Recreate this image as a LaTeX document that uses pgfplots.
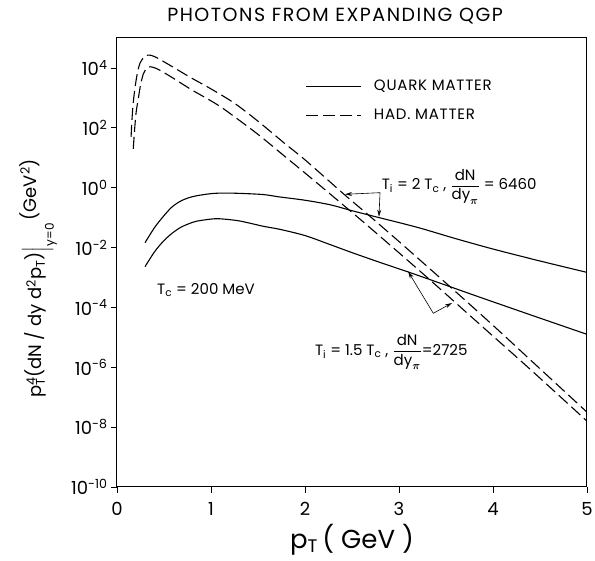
\documentclass[border=0pt]{standalone}
\usepackage{fontspec}
\setmainfont{Poppins}
\usepackage{amsmath}
\usepackage{pgfplots}
\pgfplotsset{compat=1.18}
\usetikzlibrary{arrows.meta}
\begin{document}
\begin{tikzpicture}
\begin{axis}[
  at={(0pt,0pt)}, anchor=south west,
  scale only axis, width=470pt, height=449pt,
  xmin=0, xmax=5, ymode=log, ymin=1e-10, ymax=1e5,
  xtick={0,1,2,3,4,5}, xticklabels={0,1,2,3,4,5},
  ytick={1e-10,1e-8,1e-6,1e-4,1e-2,1,1e2,1e4},
  yticklabels={10\textsuperscript{-10},10\textsuperscript{-8},10\textsuperscript{-6},10\textsuperscript{-4},10\textsuperscript{-2},10\textsuperscript{0},10\textsuperscript{2},10\textsuperscript{4}},
  yminorticks=false, xminorticks=false,
  tick pos=left, tick align=outside, major tick length=6pt,
  tick style={black, line width=0.8pt},
  axis line style={line width=1pt},
  ticklabel style={font=\fontsize{18}{18}\selectfont},
  xticklabel style={yshift=-6pt},
  clip mode=individual,
  title={PHOTONS FROM EXPANDING QGP},
  title style={at={(rel axis cs:0.464,1.036)}, anchor=center, font=\fontsize{19}{19}\selectfont\addfontfeature{LetterSpace=8}},
  xlabel={p\textsubscript{T}\,( GeV )},
  xlabel style={at={(rel axis cs:0.5,-0.118)}, anchor=center, font=\fontsize{26}{26}\selectfont},
  ylabel={p\rlap{\textsuperscript{4}}\textsubscript{T}(dN / dy d\textsuperscript{2}p\textsubscript{T})$\Big|$\raisebox{-1.2ex}{\fontsize{12}{12}\selectfont y=0}\,\raisebox{0.6ex}{(GeV\textsuperscript{2})}},
  ylabel style={at={(rel axis cs:-0.168,0.465)}, anchor=center, font=\fontsize{18}{18}\selectfont},
  legend style={at={(rel axis cs:0.395,0.915)}, anchor=north west, draw=none, fill=none,
    font=\fontsize{15}{15}\selectfont\addfontfeature{LetterSpace=5}, row sep=13pt,
    /tikz/every odd column/.append style={column sep=10pt}},
  legend cell align=left,
  legend image code/.code={\draw[#1] (0pt,0pt) -- (55pt,0pt);},
]
% Quark matter, T_i = 2 T_c
\addplot[black, line width=1.1pt, smooth] coordinates {
(0.298,1.445e-2) (0.40,4.677e-2) (0.493,0.1096) (0.58,0.2188) (0.67,0.3467)
(0.76,0.4571) (0.848,0.5370) (1.0,0.6310) (1.13,0.6607) (1.3,0.6457) (1.556,0.5888)
(1.73,0.4898) (2.0,0.3802) (2.266,0.2692) (2.5,0.1698) (2.8,0.09772)
(3.2,0.04677) (3.6,0.01995) (4.0,0.008913) (4.5,0.003548) (5.0,0.001479)};
\addlegendentry{QUARK MATTER}
% Hadronic matter, T_i = 2 T_c
\addplot[black, line width=1.1pt, smooth, dash pattern=on 12pt off 5pt] coordinates {
(0.150,50.12) (0.158,158.5) (0.170,562.3) (0.19,1995) (0.215,6310)
(0.245,14454) (0.29,23442) (0.333,26915) (0.40,23988) (0.546,13183)
(0.794,4571) (1.0,1995) (1.25,660.7) (1.5,166.0) (1.787,29.51)
(2.0,8.511) (2.426,0.5623) (2.67,0.1259) (3.0,0.01585) (3.54,5.012e-4)
(4.0,2.512e-5) (4.5,8.913e-7) (5.0,3.162e-8)};
\addlegendentry{HAD. MATTER}
% Quark matter, T_i = 1.5 T_c
\addplot[black, line width=1.1pt, smooth, forget plot] coordinates {
(0.298,0.002291) (0.40,0.007244) (0.493,0.01622) (0.58,0.02884) (0.67,0.04571)
(0.76,0.06166) (0.848,0.07586) (1.0,0.08913) (1.096,0.09120) (1.3,0.07762) (1.556,0.05129)
(1.73,0.04074) (2.0,0.02512) (2.266,0.01259) (2.5,0.006761) (2.8,0.003162)
(3.12,0.001445) (3.5,5.495e-4) (3.86,2.188e-4) (4.4,5.623e-5) (5.0,1.259e-5)};
% Hadronic matter, T_i = 1.5 T_c
\addplot[black, line width=1.1pt, smooth, dash pattern=on 12pt off 5pt, forget plot] coordinates {
(0.173,19.95) (0.19,112.2) (0.205,354.8) (0.227,955.0) (0.25,2630)
(0.28,6310) (0.315,9550) (0.351,10965) (0.42,9550) (0.55,5623)
(0.794,1862) (1.0,794.3) (1.149,398.1) (1.5,60.26) (1.787,10.96)
(2.0,3.090) (2.32,0.4467) (2.7,0.04365) (3.30,0.001) (3.8,3.981e-5)
(4.4,8.318e-7) (5.0,1.585e-8)};

% annotations
\node[anchor=west, font=\fontsize{15}{15}\selectfont, inner sep=0pt] at (rel axis cs:0.563,0.669)
  {T\textsubscript{i} = 2 T\textsubscript{c} , $\dfrac{\text{dN}}{\text{dy}_{\boldsymbol{\pi}}}$ = 6460};
\draw[line width=0.6pt, -{Stealth[length=7pt,width=4pt]}] (rel axis cs:0.5596,0.6555) -- (rel axis cs:0.4851,0.6519);
\draw[line width=0.6pt, -{Stealth[length=7pt,width=4pt]}] (rel axis cs:0.5596,0.6555) -- (rel axis cs:0.5574,0.602);
\node[anchor=west, font=\fontsize{15}{15}\selectfont, inner sep=0pt] at (rel axis cs:0.421,0.301)
  {T\textsubscript{i} = 1.5 T\textsubscript{c} , $\dfrac{\text{dN}}{\text{dy}_{\boldsymbol{\pi}}}$=2725};
\draw[line width=0.6pt, -{Stealth[length=7pt,width=4pt]}] (rel axis cs:0.673,0.3869) -- (rel axis cs:0.6196,0.4795);
\draw[line width=0.6pt, -{Stealth[length=7pt,width=4pt]}] (rel axis cs:0.673,0.3869) -- (rel axis cs:0.7128,0.4098);
\node[anchor=west, font=\fontsize{15}{15}\selectfont, inner sep=0pt] at (rel axis cs:0.085,0.4388)
  {T\textsubscript{c} = 200 MeV};
\end{axis}
\pgfresetboundingbox
\path[use as bounding box] (-117pt,-74pt) rectangle (478pt,487pt);
\end{tikzpicture}
\end{document}
